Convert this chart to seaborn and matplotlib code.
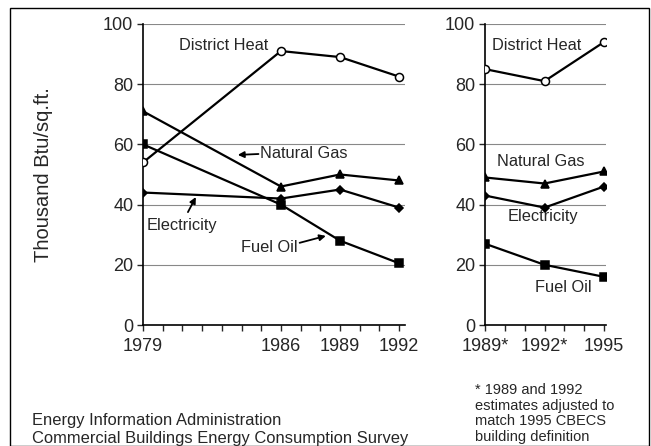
import matplotlib
matplotlib.use("Agg")
import matplotlib.pyplot as plt
import seaborn as sns
from matplotlib.patches import Rectangle

# left panel: 1979-1992 CBECS
years_a = [1979, 1986, 1989, 1992]
district_a = [54, 91, 89, 82.5]
gas_a = [71, 46, 50, 48]
elec_a = [44, 42, 45, 39]
oil_a = [60, 40, 28, 20.5]

# right panel: adjusted estimates
years_b = [1989, 1992, 1995]
year_labels_b = ["1989*", "1992*", "1995"]
district_b = [85, 81, 94]
gas_b = [49, 47, 51]
elec_b = [43, 39, 46]
oil_b = [27, 20, 16]

sns.set_style("white")
plt.rcParams['font.family'] = ['Liberation Sans', 'DejaVu Sans']

fig = plt.figure(figsize=(6.51, 4.46), dpi=100)
ax1 = fig.add_axes([0.2197, 0.2713, 0.4025, 0.675])
ax2 = fig.add_axes([0.745, 0.2713, 0.1859, 0.675])

styles = [("District Heat", "o", "white", 5.8),
          ("Natural Gas", "^", "black", 5.8),
          ("Electricity", "D", "black", 3.6),
          ("Fuel Oil", "s", "black", 5.8)]


def draw_panel(ax, years, series, xmin, xmax):
    for (name, mk, fc, ms), vals in zip(styles, series):
        sns.lineplot(x=years, y=vals, ax=ax, color="black", lw=1.6,
                     marker=mk, markersize=ms, markerfacecolor=fc,
                     markeredgecolor="black", markeredgewidth=1.1, zorder=3)
    ax.set_ylim(0, 100)
    ax.set_xlim(xmin, xmax)
    ax.set_yticks([0, 20, 40, 60, 80, 100])
    ax.set_xticks(range(int(years[0]), int(years[-1]) + 1), minor=True)
    for v in [20, 40, 60, 80, 100]:
        ax.axhline(v, color="#888888", lw=0.8, zorder=1)
    for s in ["top", "right"]:
        ax.spines[s].set_visible(False)
    for s in ["left", "bottom"]:
        ax.spines[s].set_color("black")
        ax.spines[s].set_linewidth(1.2)
    ax.tick_params(axis="y", direction="out", length=4, width=1, labelsize=13,
                   left=True, pad=3)
    ax.tick_params(axis="x", which="both", direction="out", length=4, width=1,
                   bottom=True, labelsize=13, pad=5)


def arrow(ax, tail, head):
    ax.annotate("", xy=head, xytext=tail,
                arrowprops=dict(arrowstyle="-|>", color="black", lw=1.3,
                                mutation_scale=9, shrinkA=0, shrinkB=0))


draw_panel(ax1, years_a, [district_a, gas_a, elec_a, oil_a], 1979, 1992.3)
ax1.set_xticks(years_a)
ax1.set_xticklabels([str(y) for y in years_a])
ax1.set_ylabel("Thousand Btu/sq.ft.", fontsize=14.5, labelpad=36)

draw_panel(ax2, years_b, [district_b, gas_b, elec_b, oil_b], 1989, 1995.1)
ax2.set_xticks(years_b)
ax2.set_xticklabels(year_labels_b)

fs = 11.8
ax1.text(1983.07, 93, "District Heat", fontsize=fs, ha="center", va="center")
ax1.text(1984.96, 57.1, "Natural Gas", fontsize=fs, ha="left", va="center")
ax1.text(1979.2, 33.2, "Electricity", fontsize=fs, ha="left", va="center")
ax1.text(1983.96, 25.6, "Fuel Oil", fontsize=fs, ha="left", va="center")
arrow(ax1, (1984.86, 56.8), (1983.81, 56.5))
arrow(ax1, (1981.28, 37.5), (1981.68, 42.5))
arrow(ax1, (1986.95, 27.3), (1988.28, 29.6))

ax2.text(1989.35, 93, "District Heat", fontsize=fs, ha="left", va="center")
ax2.text(1989.6, 54.2, "Natural Gas", fontsize=fs, ha="left", va="center")
ax2.text(1990.14, 36.2, "Electricity", fontsize=fs, ha="left", va="center")
ax2.text(1991.53, 12.6, "Fuel Oil", fontsize=fs, ha="left", va="center")

fig.text(32 / 651, 1 - 420 / 446, "Energy Information Administration",
         fontsize=11.9, va="center", ha="left")
fig.text(32 / 651, 1 - 438.5 / 446, "Commercial Buildings Energy Consumption Survey",
         fontsize=11.9, va="center", ha="left")
note = ["* 1989 and 1992", "estimates adjusted to", "match 1995 CBECS",
        "building definition"]
for i, line in enumerate(note):
    fig.text(475 / 651, 1 - (390 + i * 15.7) / 446, line, fontsize=10.5,
             va="center", ha="left")

fig.patches.append(Rectangle((10 / 651, 0), 639 / 651, 1 - 8 / 446,
                             transform=fig.transFigure, fill=False,
                             edgecolor="black", lw=1.0))

fig.savefig("out.png", dpi=100)
